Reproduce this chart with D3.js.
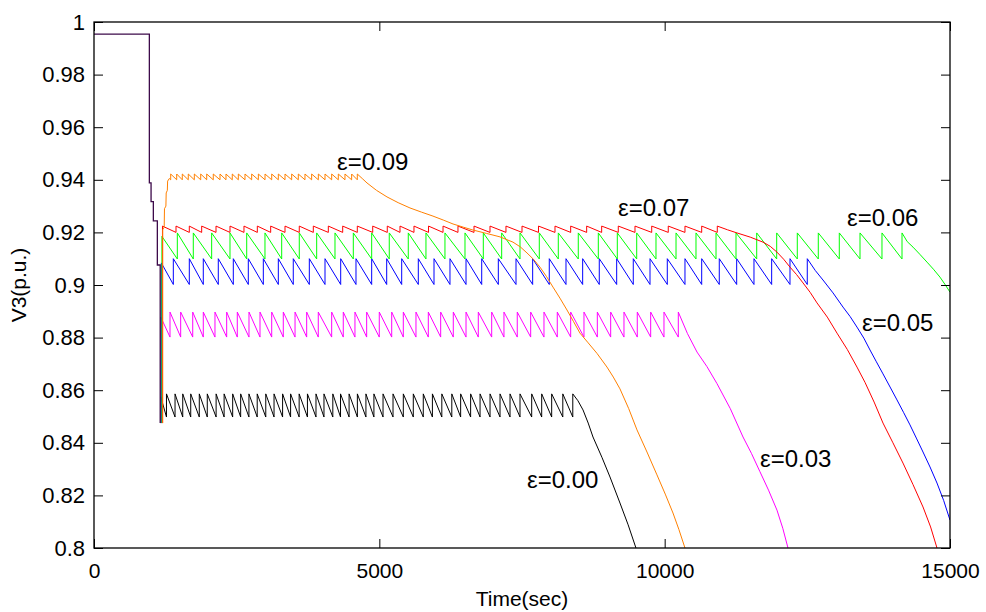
<!DOCTYPE html>
<html>
<head>
<meta charset="utf-8">
<script src="https://cdn.jsdelivr.net/npm/d3@7"></script>
<style>
  body { margin: 0; background: #fff; }
  svg { display: block; }
  text { font-family: "Liberation Sans", Arial, Helvetica, sans-serif; fill: #000; }
</style>
</head>
<body>
<svg id="chart" width="986" height="612"></svg>
<script>
// ---- Axis ticks ----
const xTicks = [0, 5000, 10000, 15000];
const yTicks = [0.8, 0.82, 0.84, 0.86, 0.88, 0.9, 0.92, 0.94, 0.96, 0.98, 1];

// ---- Voltage before and during the disturbance (shared by all cases) ----
const commonPath = [[0, 0.9954], [970, 0.9954], [970, 0.9388], [1000, 0.9388], [1000, 0.9317],
  [1040, 0.9317], [1040, 0.9244], [1110, 0.9244], [1110, 0.9076], [1160, 0.9076], [1160, 0.8475]];

// ---- Case labels ----
const caseLabels = ["ε=0.00", "ε=0.03", "ε=0.05", "ε=0.06", "ε=0.07", "ε=0.09"];
const caseColors = ["#000000", "#ff00ff", "#0000ff", "#00ff00", "#ff0000", "#ff8000"];

// ---- Recovery right after the disturbance, per case [time, V] ----
const startEps000 = [[1170, 0.8475], [1170, 0.8575]];
const startEps003 = [[1170, 0.8475], [1170, 0.8878]];
const startEps005 = [[1180, 0.8475], [1180, 0.9084]];
const startEps006 = [[1190, 0.8475], [1190, 0.9185]];
const startEps007 = [[1200, 0.8475], [1200, 0.9224]];
const startEps009 = [[1205, 0.8475], [1205, 0.921], [1230, 0.922], [1235, 0.929], [1260, 0.930],
  [1265, 0.935], [1285, 0.936], [1290, 0.9395], [1320, 0.9405]];

// ---- Tap-changer operation times (s), per case ----
const tapsEps000 = [1270, 1420, 1555, 1695, 1845, 1985, 2140, 2280, 2430, 2570, 2715, 2860, 3010, 3155,
  3305, 3445, 3595, 3740, 3890, 4030, 4185, 4320, 4470, 4615, 4765, 4905, 5065, 5240, 5420, 5595, 5770,
  5930, 6095, 6270, 6425, 6600, 6765, 6940, 7115, 7290, 7465, 7670, 7845, 8020, 8215, 8390];
const tapsEps003 = [1332, 1519, 1730, 1915, 2120, 2325, 2511, 2716, 2909, 3114, 3317, 3523, 3727, 3930,
  4165, 4368, 4573, 4778, 4999, 5217, 5420, 5642, 5858, 6075, 6296, 6519, 6734, 6969, 7184, 7417, 7652,
  7885, 8118, 8353, 8586, 8820, 9054, 9287, 9520, 9755, 9988, 10239];
const tapsEps005 = [1390, 1670, 1915, 2178, 2441, 2704, 2967, 3230, 3492, 3773, 4048, 4323, 4591, 4866,
  5129, 5392, 5683, 5958, 6238, 6519, 6794, 7085, 7395, 7687, 7978, 8271, 8563, 8854, 9159, 9450, 9743,
  10046, 10356, 10649, 10957, 11262, 11565, 11875, 12196, 12499];
const tapsEps006 = [1460, 1740, 2062, 2383, 2676, 2996, 3289, 3597, 3902, 4223, 4544, 4866, 5174, 5507,
  5817, 6150, 6501, 6822, 7144, 7465, 7803, 8136, 8486, 8837, 9170, 9510, 9848, 10199, 10549, 10900,
  11250, 11613, 11963, 12324, 12692, 13060, 13423, 13808, 14159];
const tapsEps007 = [1437, 1670, 1887, 2138, 2383, 2628, 2862, 3096, 3347, 3597, 3843, 4106, 4358, 4614,
  4884, 5139, 5362, 5607, 5862, 6116, 6378, 6659, 6939, 7219, 7500, 7789, 8078, 8353, 8633, 8896, 9187,
  9480, 9773, 10063, 10356, 10649, 10922];
const tapsEps009 = [1344, 1449, 1547, 1652, 1758, 1870, 1975, 2090, 2208, 2313, 2423, 2529, 2646, 2763,
  2880, 2997, 3114, 3230, 3347, 3464, 3580, 3697, 3814, 3931, 4048, 4165, 4281, 4398, 4515, 4614];

// ---- Voltage just after / just before a tap operation, per case ----
const peakV = [0.8586, 0.8897, 0.9100, 0.9198, 0.9224, 0.9422];
const troughV = [0.8498, 0.8802, 0.9002, 0.9099, 0.9200, 0.9400];

// ---- Collapse once the taps are exhausted, per case [time, V] ----
const tailEps000 = [[8480, 0.8560], [8569, 0.8525], [8660, 0.8475], [8744, 0.8422], [8900, 0.8345],
  [9042, 0.8270], [9217, 0.8171], [9360, 0.8088], [9497, 0.800]];
const tailEps003 = [[10400, 0.8815], [10567, 0.8745], [10740, 0.8690], [10917, 0.8625], [11150, 0.8530],
  [11373, 0.8422], [11520, 0.8360], [11670, 0.8290], [11820, 0.8220], [11968, 0.8144], [12070, 0.8075],
  [12161, 0.800]];
const tailEps005 = [[12640, 0.9055], [12774, 0.9019], [12950, 0.8970], [13125, 0.8916], [13250, 0.8880],
  [13370, 0.8840], [13490, 0.8798], [13598, 0.8753], [13710, 0.8708], [13826, 0.8662], [13950, 0.8612],
  [14071, 0.8563], [14185, 0.8516], [14299, 0.8468], [14410, 0.8418], [14527, 0.8365], [14650, 0.8308],
  [14772, 0.8247], [14890, 0.8180], [15000, 0.8106]];
const tailEps006 = [[14250, 0.9165], [14352, 0.9144], [14470, 0.9117], [14597, 0.9087], [14710, 0.9060],
  [14824, 0.9030], [14910, 0.9003], [15000, 0.8973]];
const tailEps007 = [[11100, 0.9210], [11267, 0.9198], [11500, 0.9182], [11723, 0.9163], [11850, 0.9147],
  [11968, 0.9125], [12085, 0.9098], [12196, 0.9068], [12310, 0.9040], [12424, 0.9008], [12550, 0.8972],
  [12669, 0.8932], [12850, 0.8878], [13020, 0.8817], [13200, 0.8755], [13370, 0.8688], [13510, 0.8630],
  [13670, 0.8555], [13826, 0.8475], [14000, 0.8400], [14176, 0.8323], [14350, 0.8242], [14527, 0.8156],
  [14660, 0.8080], [14772, 0.800]];
const tailEps009 = [[4700, 0.9405], [4784, 0.9388], [4950, 0.9360], [5134, 0.9335], [5330, 0.9313],
  [5537, 0.9293], [5740, 0.9277], [5940, 0.9262], [6120, 0.9247], [6291, 0.9232], [6470, 0.9220],
  [6641, 0.9209], [6880, 0.9196], [7114, 0.9183], [7342, 0.9163], [7470, 0.9145], [7587, 0.9122],
  [7700, 0.9098], [7815, 0.9068], [7930, 0.9032], [8043, 0.8992], [8165, 0.8950], [8288, 0.8905],
  [8400, 0.8862], [8516, 0.8817], [8660, 0.8780], [8814, 0.8740], [8989, 0.8688], [9100, 0.8650],
  [9217, 0.8605], [9370, 0.8530], [9515, 0.8449], [9690, 0.8365], [9865, 0.8278], [10010, 0.8205],
  [10146, 0.8133], [10250, 0.8070], [10356, 0.800]];

// ---- Label anchor for each case [time, V] ----
const labelPos = [[7587, 0.8228], [11670, 0.8308], [13458, 0.8825], [13195, 0.9224], [9182, 0.9262], [4258, 0.9437]];

const starts = [startEps000, startEps003, startEps005, startEps006, startEps007, startEps009];
const taps = [tapsEps000, tapsEps003, tapsEps005, tapsEps006, tapsEps007, tapsEps009];
const tails = [tailEps000, tailEps003, tailEps005, tailEps006, tailEps007, tailEps009];

// ---- Layout ----
const W = 986, H = 612;
const margin = { left: 94, right: 36, top: 22, bottom: 64 };
const iw = W - margin.left - margin.right;
const ih = H - margin.top - margin.bottom;

const svg = d3.select("#chart");
svg.append("rect").attr("width", W).attr("height", H).attr("fill", "#fff");
const g = svg.append("g").attr("transform", `translate(${margin.left},${margin.top})`);

const x = d3.scaleLinear().domain([0, 15000]).range([0, iw]);
const y = d3.scaleLinear().domain([0.8, 1]).range([ih, 0]);

g.append("clipPath").attr("id", "plot-clip")
  .append("rect").attr("width", iw).attr("height", ih);

// Build each case's trace: recovery, sawtooth of tap operations, then collapse
function buildTrace(i) {
  const pts = starts[i].slice();
  taps[i].forEach(t => {
    pts.push([t, troughV[i]]);
    pts.push([t, peakV[i]]);
  });
  return pts.concat(tails[i]);
}

const line = d3.line().x(d => x(d[0])).y(d => y(d[1]));
const plot = g.append("g").attr("clip-path", "url(#plot-clip)");

[0, 1, 2, 3, 4, 5].forEach(i => {
  plot.append("path")
    .attr("d", line(buildTrace(i)))
    .attr("fill", "none")
    .attr("stroke", caseColors[i])
    .attr("stroke-width", 1)
    .attr("stroke-linejoin", "miter");
});

plot.append("path")
  .attr("d", line(commonPath))
  .attr("fill", "none")
  .attr("stroke", "#3d0a4a")
  .attr("stroke-width", 1.3);

// ---- Axes (ticks inside on all four sides) ----
const fmtY = d => String(+d.toFixed(2));
const axB = g.append("g").attr("transform", `translate(0,${ih})`)
  .call(d3.axisBottom(x).tickValues(xTicks).tickSizeInner(-9).tickSizeOuter(0).tickPadding(15).tickFormat(d3.format("d")));
const axL = g.append("g")
  .call(d3.axisLeft(y).tickValues(yTicks).tickSizeInner(-9).tickSizeOuter(0).tickPadding(9).tickFormat(fmtY));
const axT = g.append("g")
  .call(d3.axisTop(x).tickValues(xTicks).tickSizeInner(-9).tickSizeOuter(0).tickFormat(""));
const axR = g.append("g").attr("transform", `translate(${iw},0)`)
  .call(d3.axisRight(y).tickValues(yTicks).tickSizeInner(-9).tickSizeOuter(0).tickFormat(""));

[axB, axL, axT, axR].forEach(a => {
  a.select(".domain").remove();
  a.selectAll(".tick line").attr("stroke", "#000").attr("stroke-width", 1);
  a.selectAll("text").attr("font-size", 21).attr("font-family", "Liberation Sans, Arial, sans-serif").attr("fill", "#000");
});
axL.selectAll("text").attr("font-size", 22);

g.append("rect").attr("width", iw).attr("height", ih)
  .attr("fill", "none").attr("stroke", "#000").attr("stroke-width", 1.3);

// ---- Axis titles ----
svg.append("text").attr("x", margin.left + iw / 2).attr("y", 606)
  .attr("text-anchor", "middle").attr("font-size", 21).text("Time(sec)");
svg.append("text").attr("transform", `translate(26,${margin.top + ih / 2}) rotate(-90)`)
  .attr("text-anchor", "middle").attr("font-size", 21).text("V3(p.u.)");

// ---- Case labels ----
g.selectAll(".case-label").data(caseLabels).join("text")
  .attr("class", "case-label")
  .attr("x", (d, i) => x(labelPos[i][0]))
  .attr("y", (d, i) => y(labelPos[i][1]))
  .attr("font-size", 24)
  .text(d => d);
</script>
</body>
</html>
